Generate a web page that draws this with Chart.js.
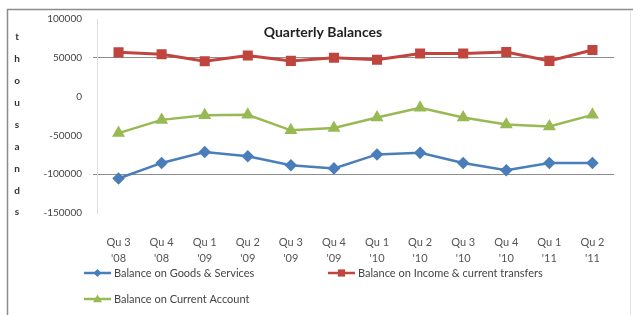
<!DOCTYPE html>
<html>
<head>
<meta charset="utf-8">
<script src="https://cdn.jsdelivr.net/npm/chart.js@4.4.1/dist/chart.umd.min.js"></script>
<style>
  body { margin: 0; background: #fff; }
  #wrap { width: 633px; height: 315px; position: relative; }
</style>
</head>
<body>
<div id="wrap"><canvas id="balances" width="633" height="315"></canvas></div>
<script>
// quarterly balances, thousands
var quarters = [["Qu 3", "'08"], ["Qu 4", "'08"], ["Qu 1", "'09"], ["Qu 2", "'09"],
                ["Qu 3", "'09"], ["Qu 4", "'09"], ["Qu 1", "'10"], ["Qu 2", "'10"],
                ["Qu 3", "'10"], ["Qu 4", "'10"], ["Qu 1", "'11"], ["Qu 2", "'11"]];
var goodsServices = [-105500, -85500, -71500, -77000, -88500, -92500, -74500, -72500, -85500, -95000, -85500, -85500];
var incomeTransfers = [57000, 54500, 45500, 53000, 46000, 50000, 47500, 55500, 55500, 57500, 46000, 60000];
var currentAccount = [-47000, -30000, -24000, -23500, -43500, -40500, -27000, -14500, -27000, -36000, -38500, -23500];
var yTicks = [100000, 50000, 0, -50000, -100000, -150000];
var gridAt = [50000, -100000];

var blue = "#4a7ebb", red = "#c0453f", green = "#98b954";
var font = "Lato, 'Open Sans', sans-serif";

function marker(ctx, style, x, y, r, col) {
  ctx.fillStyle = col;
  ctx.beginPath();
  if (style == "rectRot") {
    ctx.moveTo(x, y - r); ctx.lineTo(x + r, y); ctx.lineTo(x, y + r); ctx.lineTo(x - r, y);
  } else if (style == "rect") {
    ctx.rect(x - r * 0.8, y - r * 0.8, r * 1.6, r * 1.6);
  } else {
    ctx.moveTo(x, y - r); ctx.lineTo(x + r, y + r * 0.7); ctx.lineTo(x - r, y + r * 0.7);
  }
  ctx.closePath();
  ctx.fill();
}

var extras = {
  id: "extras",
  afterDraw: function(chart) {
    var ctx = chart.ctx;
    ctx.save();
    // frame
    ctx.strokeStyle = "#8c8c8c";
    ctx.lineWidth = 1.5;
    ctx.beginPath();
    ctx.moveTo(7.5, 315); ctx.lineTo(7.5, 9.5); ctx.lineTo(633, 9.5);
    ctx.stroke();
    ctx.strokeStyle = "#e2e2e2";
    ctx.lineWidth = 1;
    ctx.beginPath();
    ctx.moveTo(630.5, 10); ctx.lineTo(630.5, 315);
    ctx.stroke();

    // title
    ctx.fillStyle = "#222";
    ctx.font = "bold 14px " + font;
    ctx.textAlign = "center";
    ctx.textBaseline = "middle";
    ctx.fillText("Quarterly Balances", 323, 32);

    // stacked axis title
    ctx.font = "bold 10px " + font;
    ctx.fillStyle = "#333";
    var word = "thousands";
    for (var i = 0; i < word.length; i++) {
      ctx.fillText(word[i], 17, 37 + i * 21.9);
    }

    // legend
    var items = [
      { text: "Balance on Goods & Services", col: blue, style: "rectRot", r: 4, x: 84, y: 273 },
      { text: "Balance on Income & current transfers", col: red, style: "rect", r: 4.5, x: 328, y: 273 },
      { text: "Balance on Current Account", col: green, style: "triangle", r: 4.5, x: 84, y: 299 }
    ];
    ctx.font = "11px " + font;
    ctx.textAlign = "left";
    items.forEach(function(it) {
      ctx.strokeStyle = it.col;
      ctx.lineWidth = 2.5;
      ctx.beginPath();
      ctx.moveTo(it.x, it.y); ctx.lineTo(it.x + 27, it.y);
      ctx.stroke();
      marker(ctx, it.style, it.x + 13.5, it.y, it.r, it.col);
      ctx.fillStyle = "#444";
      ctx.fillText(it.text, it.x + 30, it.y);
    });
    ctx.restore();
  }
};

new Chart(document.getElementById("balances"), {
  type: "line",
  data: {
    labels: quarters,
    datasets: [
      { label: "Balance on Goods & Services", data: goodsServices, borderColor: blue, backgroundColor: blue,
        borderWidth: 2.5, pointStyle: "rectRot", pointRadius: 4.5, tension: 0 },
      { label: "Balance on Income & current transfers", data: incomeTransfers, borderColor: red, backgroundColor: red,
        borderWidth: 3, pointStyle: "rect", pointRadius: 5, tension: 0 },
      { label: "Balance on Current Account", data: currentAccount, borderColor: green, backgroundColor: green,
        borderWidth: 2.5, pointStyle: "triangle", pointRadius: 5, tension: 0 }
    ]
  },
  options: {
    responsive: false,
    animation: false,
    devicePixelRatio: 1,
    layout: { padding: { left: 0, right: 19, top: 19, bottom: 45 } },
    plugins: { legend: { display: false }, title: { display: false }, tooltip: { enabled: false } },
    scales: {
      x: {
        offset: true,
        grid: { display: false },
        border: { display: false },
        ticks: { color: "#555", font: { family: font, size: 11, lineHeight: 1.5 }, padding: 13,
                 maxRotation: 0, autoSkip: false },
        afterFit: function(s) { s.height = 57; }
      },
      y: {
        min: -150000, max: 100000,
        afterBuildTicks: function(s) { s.ticks = yTicks.map(function(v) { return { value: v }; }); },
        grid: {
          color: function(c) { return gridAt.indexOf(c.tick && c.tick.value) >= 0 ? "#8c8c8c" : "rgba(0,0,0,0)"; },
          tickLength: 4
        },
        border: { color: "#dcdcdc" },
        ticks: { color: "#444", font: { family: font, size: 10 }, padding: 11,
                 callback: function(v) { return String(v); } },
        afterFit: function(s) { s.width = 97; }
      }
    }
  },
  plugins: [extras]
});
</script>
</body>
</html>
